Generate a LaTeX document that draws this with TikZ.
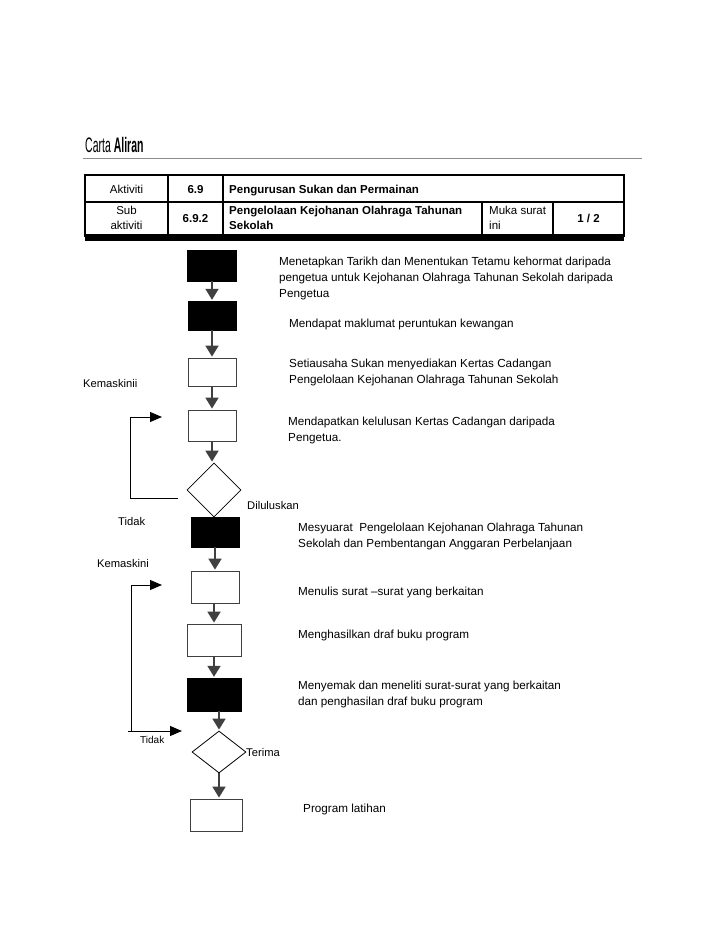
\documentclass[tikz,border=0pt]{standalone}
\usepackage{fontspec}
\usepackage{graphicx}
\setmainfont{Liberation Sans}
\usetikzlibrary{arrows.meta,shapes.geometric}
\definecolor{arr}{HTML}{404040}
\definecolor{rule}{HTML}{8C8C8C}
\begin{document}
\begin{tikzpicture}[x=1pt,y=-1pt,
  txt/.style={font=\fontsize{11.7}{16}\selectfont, inner sep=0pt, align=left, anchor=north west},
  tbl/.style={font=\fontsize{11.5}{15.5}\selectfont, inner sep=0pt, align=left},
  tblb/.style={font=\fontsize{11.5}{15.5}\selectfont\bfseries, inner sep=0pt, align=left},
  lbl/.style={font=\fontsize{11.2}{13}\selectfont, inner sep=0pt, anchor=base west},
  blackbox/.style={draw=black, fill=black, inner sep=0pt, minimum width=#1},
  whitebox/.style={draw=black!75, fill=white, line width=0.8pt, inner sep=0pt, minimum width=#1},
  dia/.style={diamond, draw=black, line width=0.8pt, fill=white, inner sep=0pt, minimum width=#1},
  dar/.style={draw=arr, line width=1.8pt, -{Triangle[width=13pt,length=11pt]}, shorten >=1pt},
  loop/.style={draw=black, line width=0.9pt},
  looparr/.style={draw=black, line width=0.9pt, -{Triangle[width=10pt,length=12pt]}}
]
\useasboundingbox (0,0) rectangle (728,943);
\fill[white] (0,0) rectangle (728,943);

% title
\node[inner sep=0pt, anchor=base west] (title) at (85,152)
  {\scalebox{0.5}[1]{\fontsize{21}{21}\selectfont Carta \textbf{Aliran}}};
\draw[rule, line width=1pt] (83,158) -- (642,158);

% table
\fill[black] (85,234) rectangle (624,241);
\draw[line width=1.2pt] (85,175) rectangle (624,236);
\draw[line width=1.2pt] (85,202) -- (624,202);
\draw[line width=1.2pt] (168,175) -- (168,236);
\draw[line width=1.2pt] (223,175) -- (223,236);
\draw[line width=1.2pt] (482,202) -- (482,236);
\draw[line width=1.2pt] (553,202) -- (553,236);
\node[tbl, anchor=base] (c11) at (126.5,193) {Aktiviti};
\node[tblb, anchor=base] (c12) at (195.5,193) {6.9};
\node[tblb, anchor=base west] (c13) at (229,193) {Pengurusan Sukan dan Permainan};
\node[tbl, align=center, anchor=north] (c21) at (126.5,205.8) {Sub\\aktiviti};
\node[tblb, anchor=base] (c22) at (195.5,222.5) {6.9.2};
\node[tblb, anchor=north west] (c23) at (229,205.8) {Pengelolaan Kejohanan Olahraga Tahunan\\Sekolah};
\node[tbl, anchor=north west] (c24) at (489,205.8) {Muka surat\\ini};
\node[tblb, anchor=base] (c25) at (588.5,222.5) {1 / 2};

% flow boxes
\node[blackbox=49pt, minimum height=31pt] (b1) at (212,265.5) {};
\node[blackbox=48pt, minimum height=29pt] (b2) at (212,315.5) {};
\node[whitebox=48pt, minimum height=28pt] (b3) at (212,372) {};
\node[whitebox=48pt, minimum height=31pt] (b4) at (212,425.5) {};
\node[dia=54pt, minimum height=54pt] (d1) at (214,490) {};
\node[blackbox=48pt, minimum height=30pt] (b5) at (215,532) {};
\node[whitebox=48pt, minimum height=32pt] (b6) at (215,587) {};
\node[whitebox=54pt, minimum height=32pt] (b7) at (214,640) {};
\node[blackbox=54pt, minimum height=33pt] (b8) at (214,694.5) {};
\node[dia=54pt, minimum height=42pt] (d2) at (219,752) {};
\node[whitebox=52pt, minimum height=32pt] (b9) at (216,815) {};

% down arrows
\draw[dar] (b1.south) -- (b1.south |- b2.north);
\draw[dar] (b2.south) -- (b2.south |- b3.north);
\draw[dar] (b3.south) -- (b3.south |- b4.north);
\draw[dar] (b4.south) -- (b4.south |- d1.north);
\draw[dar] (b5.south) -- (b5.south |- b6.north);
\draw[dar] (b6.south -| b7.north) -- (b7.north);
\draw[dar] (b7.south) -- (b7.south |- b8.north);
\draw[dar] (b8.south -| d2.north) -- (d2.north);
\draw[dar] (d2.south) -- (d2.south |- b9.north);

% loop 1
\coordinate (l1s) at (178,498);
\coordinate (l1c) at (130,498);
\coordinate (l1t) at (130,417);
\coordinate (l1e) at (162,417);
\draw[loop] (l1s) -- (l1c) -- (l1t);
\draw[looparr] (l1t) -- (l1e);

% loop 2
\coordinate (l2s) at (128,731);
\coordinate (l2e) at (182,731);
\coordinate (l2c) at (131,731);
\coordinate (l2t) at (131,585);
\coordinate (l2a) at (162,585);
\draw[looparr] (l2s) -- (l2e);
\draw[loop] (l2c) -- (l2t);
\draw[looparr] (l2t) -- (l2a);

% labels
\node[lbl] (kem1) at (83,387) {Kemaskinii};
\node[lbl] (tid1) at (118,525) {Tidak};
\node[lbl] (dil) at (247,509) {Diluluskan};
\node[lbl] (kem2) at (97,567) {Kemaskini};
\node[lbl, font=\fontsize{10}{12}\selectfont] (tid2) at (140,743) {Tidak};
\node[lbl] (ter) at (246,756) {Terima};

% descriptions
\node[txt] (t1) at (279,256.6) {Menetapkan Tarikh dan Menentukan Tetamu kehormat daripada\\pengetua untuk Kejohanan Olahraga Tahunan Sekolah daripada\\Pengetua};
\node[txt] (t2) at (289,318.6) {Mendapat maklumat peruntukan kewangan};
\node[txt] (t3) at (289,358.6) {Setiausaha Sukan menyediakan Kertas Cadangan\\Pengelolaan Kejohanan Olahraga Tahunan Sekolah};
\node[txt] (t4) at (288,416.6) {Mendapatkan kelulusan Kertas Cadangan daripada\\Pengetua.};
\node[txt] (t5) at (298,522.6) {Mesyuarat\ \ Pengelolaan Kejohanan Olahraga Tahunan\\Sekolah dan Pembentangan Anggaran Perbelanjaan};
\node[txt] (t6) at (298,586.6) {Menulis surat --surat yang berkaitan};
\node[txt] (t7) at (298,629.6) {Menghasilkan draf buku program};
\node[txt] (t8) at (298,680.6) {Menyemak dan meneliti surat-surat yang berkaitan\\dan penghasilan draf buku program};
\node[txt] (t9) at (303,803.6) {Program latihan};
\end{tikzpicture}
\end{document}
